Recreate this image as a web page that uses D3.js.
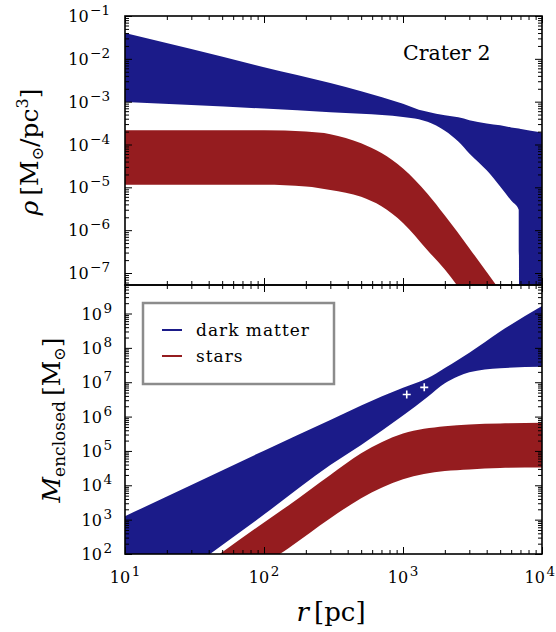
<!DOCTYPE html>
<html>
<head>
<meta charset="utf-8">
<script src="https://cdn.jsdelivr.net/npm/d3@7"></script>
<style>
body { margin: 0; background: #fff; }
text { font-family: "DejaVu Serif", serif; fill: #000; }
</style>
</head>
<body>
<svg id="chart" width="556" height="632"></svg>
<script>

// density panel, dark matter band (Msun/pc^3)
var dmRhoR  = [10, 30, 100, 300, 500, 1000, 1300, 1500, 2000, 2500, 3000, 4000, 5000, 6000, 6800, 6900, 10000]
var dmRhoHi = [0.040, 0.017, 0.0064, 0.00272, 0.00176, 8.9e-4, 6.5e-4, 5.8e-4, 4.8e-4, 4.3e-4, 3.7e-4, 3.1e-4, 2.8e-4, 2.5e-4, 2.35e-4, 2.33e-4, 1.9e-4]
var dmRhoLo = [9.8e-4, 8.4e-4, 6.9e-4, 5.7e-4, 5.2e-4, 4.4e-4, 3.9e-4, 3.4e-4, 2.1e-4, 1.18e-4, 6.2e-5, 2.5e-5, 1.05e-5, 4.9e-6, 3.0e-6, 1e-12, 1e-12]

// density panel, stars band
var starRhoR  = [10, 100, 200, 300, 500, 700, 1000, 1500, 2000, 3000, 4000, 5000, 10000]
var starRhoHi = [2.14e-4, 2.14e-4, 2.0e-4, 1.74e-4, 1.07e-4, 6.3e-5, 2.75e-5, 7.1e-6, 2.2e-6, 3.8e-7, 1.05e-7, 3.9e-8, 2e-9]
var starRhoLo = [1.15e-5, 1.15e-5, 1.05e-5, 8.7e-6, 6.0e-6, 3.6e-6, 1.48e-6, 3.4e-7, 1.2e-7, 2.1e-8, 6e-9, 2.5e-9, 1.2e-10]

// enclosed mass panel, dark matter band (Msun)
var dmMassR  = [10, 30, 100, 300, 500, 1000, 1500, 2000, 2500, 3000, 5000, 10000]
var dmMassHi = [1.26e3, 1.02e4, 1.02e5, 7.9e5, 2.1e6, 6.9e6, 1.3e7, 2.6e7, 4.5e7, 7.2e7, 3.0e8, 1.66e9]
var dmMassLo = [1.5, 40, 1.41e3, 3.9e4, 1.5e5, 1.07e6, 3.7e6, 9.3e6, 1.5e7, 1.95e7, 2.57e7, 2.8e7]

// enclosed mass panel, stars band
var starMassR  = [10, 30, 50, 100, 150, 300, 500, 1000, 2000, 3000, 5000, 10000]
var starMassHi = [1.05, 25, 112, 830, 2.6e3, 2.0e4, 8.5e4, 3.2e5, 5.2e5, 5.9e5, 6.3e5, 6.6e5]
var starMassLo = [0.1, 2, 8, 50, 148, 1.1e3, 4.2e3, 1.5e4, 2.6e4, 2.9e4, 3.2e4, 3.3e4]

// white crosses (measured masses)
var obsR = [1064, 1422]
var obsM = [4.4e6, 7.1e6]

var xTickExp = [1, 2, 3, 4]
var rhoTickExp = [-1, -2, -3, -4, -5, -6, -7]
var massTickExp = [2, 3, 4, 5, 6, 7, 8, 9]

var legendNames = ["dark matter", "stars"]
var blue = "#1b1b89"
var red = "#951c1f"

var width = 556
var height = 632

var svg = d3.select('#chart')
            .attr('width', width)
            .attr('height', height);

var left = 125, right = 542, top1 = 16, mid = 285, bottom = 554

var x = d3.scaleLog().domain([10, 1e4]).range([left, right]);
var yRho = d3.scaleLog().domain([Math.pow(10, -7.28), 0.1]).range([mid, top1]);
var yMass = d3.scaleLog().domain([100, Math.pow(10, 9.83)]).range([bottom, mid]);

var defs = svg.append('defs');
defs.append('clipPath').attr('id', 'clipTop')
    .append('rect').attr('x', left).attr('y', top1).attr('width', right - left).attr('height', mid - top1);
defs.append('clipPath').attr('id', 'clipBot')
    .append('rect').attr('x', left).attr('y', mid).attr('width', right - left).attr('height', bottom - mid);

//builds a filled band between lo and hi arrays
var band = function(g, yScale, rs, lo, hi, color){
  var rows = rs.map(function(r, i){ return {r: r, lo: lo[i], hi: hi[i]} })
  var area = d3.area()
               .x(function(d){ return x(d.r) })
               .y0(function(d){ return yScale(d.lo) })
               .y1(function(d){ return yScale(d.hi) })
               .curve(d3.curveMonotoneX)
  g.append('path').datum(rows).attr('d', area).attr('fill', color)
}

var topG = svg.append('g').attr('clip-path', 'url(#clipTop)');
band(topG, yRho, dmRhoR, dmRhoLo, dmRhoHi, blue)
band(topG, yRho, starRhoR, starRhoLo, starRhoHi, red)

var botG = svg.append('g').attr('clip-path', 'url(#clipBot)');
band(botG, yMass, dmMassR, dmMassLo, dmMassHi, blue)
band(botG, yMass, starMassR, starMassLo, starMassHi, red)

botG.selectAll('path.obs')
    .data(obsR)
    .enter()
    .append('path')
    .attr('class', 'obs')
    .attr('transform', function(d, i){ return 'translate(' + x(d) + ',' + yMass(obsM[i]) + ')' })
    .attr('d', 'M-4,0H4M0,-4V4')
    .attr('stroke', '#fff')
    .attr('stroke-width', 1.6)
    .attr('fill', 'none');

// tick values
var majorX = xTickExp.map(function(e){ return Math.pow(10, e) })
var minorX = []
for (var e = 1; e < 4; e++) for (var k = 2; k < 10; k++) minorX.push(k * Math.pow(10, e))

var logMinors = function(scale){
  var dom = scale.domain(), out = []
  for (var e = Math.floor(Math.log10(dom[0])); e <= Math.ceil(Math.log10(dom[1])); e++)
    for (var k = 2; k < 10; k++){
      var v = k * Math.pow(10, e)
      if (v >= dom[0] && v <= dom[1]) out.push(v)
    }
  return out
}

var drawTicks = function(axis, y0, x0, vals, len){
  var g = svg.append('g').attr('transform', 'translate(' + x0 + ',' + y0 + ')')
  g.call(axis.tickValues(vals).tickSize(-len).tickFormat(''))
  g.select('.domain').remove()
  g.selectAll('line').attr('stroke', '#000').attr('stroke-width', 1)
}

;[[top1, mid], [mid, bottom]].forEach(function(p){
  drawTicks(d3.axisTop(x), p[0], 0, majorX, 7)
  drawTicks(d3.axisTop(x), p[0], 0, minorX, 4)
  drawTicks(d3.axisBottom(x), p[1], 0, majorX, 7)
  drawTicks(d3.axisBottom(x), p[1], 0, minorX, 4)
})

var majorRho = rhoTickExp.map(function(e){ return Math.pow(10, e) })
var majorMass = massTickExp.map(function(e){ return Math.pow(10, e) })
drawTicks(d3.axisLeft(yRho), 0, left, majorRho, 7)
drawTicks(d3.axisLeft(yRho), 0, left, logMinors(yRho), 4)
drawTicks(d3.axisRight(yRho), 0, right, majorRho, 7)
drawTicks(d3.axisRight(yRho), 0, right, logMinors(yRho), 4)
drawTicks(d3.axisLeft(yMass), 0, left, majorMass, 7)
drawTicks(d3.axisLeft(yMass), 0, left, logMinors(yMass), 4)
drawTicks(d3.axisRight(yMass), 0, right, majorMass, 7)
drawTicks(d3.axisRight(yMass), 0, right, logMinors(yMass), 4)

// frames
svg.append('rect').attr('x', left).attr('y', top1).attr('width', right - left).attr('height', mid - top1)
   .attr('fill', 'none').attr('stroke', '#000').attr('stroke-width', 1.6)
svg.append('rect').attr('x', left).attr('y', mid).attr('width', right - left).attr('height', bottom - mid)
   .attr('fill', 'none').attr('stroke', '#000').attr('stroke-width', 1.6)

// power-of-ten labels
var powLabel = function(xp, yp, expo, anchor){
  var t = svg.append('text').attr('x', xp).attr('y', yp).attr('text-anchor', anchor).style('font-size', '16px')
  t.append('tspan').text('10')
  t.append('tspan').attr('dx', 1.5).attr('dy', -7).style('font-size', '13.5px').text(String(expo).replace('-', '\u2212'))
  return t
}

rhoTickExp.forEach(function(e){ powLabel(110, yRho(Math.pow(10, e)) + 6, e, 'end') })
massTickExp.forEach(function(e){ powLabel(112, yMass(Math.pow(10, e)) + 6, e, 'end') })
xTickExp.forEach(function(e){
  var t = powLabel(x(Math.pow(10, e)), 583, e, 'middle')
  var b = t.node().getBBox()
  if (b.x + b.width > 555) t.attr('x', x(Math.pow(10, e)) - (b.x + b.width - 555))
})

// axis titles
var xt = svg.append('text').attr('x', 331).attr('y', 621).attr('text-anchor', 'middle').style('font-size', '26px')
xt.append('tspan').style('font-style', 'italic').text('r')
xt.append('tspan').text('\u2009[pc]')

var yt1 = svg.append('text').attr('transform', 'translate(38,152) rotate(-90)').attr('text-anchor', 'middle').style('font-size', '25px')
yt1.append('tspan').style('font-style', 'italic').text('\u03c1')
yt1.append('tspan').text('\u2009[M')
yt1.append('tspan').attr('dy', 5).style('font-size', '16px').text('\u2299')
yt1.append('tspan').attr('dy', -5).text('/pc')
yt1.append('tspan').attr('dy', -10).style('font-size', '16px').text('3')
yt1.append('tspan').attr('dy', 10).text(']')

var yt2 = svg.append('text').attr('transform', 'translate(60,420) rotate(-90)').attr('text-anchor', 'middle').style('font-size', '25px')
yt2.append('tspan').style('font-style', 'italic').text('M')
yt2.append('tspan').attr('dy', 5).style('font-size', '17px').text('enclosed')
yt2.append('tspan').attr('dy', -5).text('\u2009[M')
yt2.append('tspan').attr('dy', 5).style('font-size', '16px').text('\u2299')
yt2.append('tspan').attr('dy', -5).text(']')

// panel name
svg.append('text').attr('x', 403).attr('y', 60).style('font-size', '20.5px').text('Crater 2')

// legend
var leg = svg.append('g')
leg.append('rect').attr('x', 143).attr('y', 303).attr('width', 191).attr('height', 81)
   .attr('fill', '#fff').attr('stroke', '#8c8c8c').attr('stroke-width', 2.5)
legendNames.forEach(function(name, i){
  var yy = 330 + i * 26
  leg.append('line').attr('x1', 162).attr('x2', 182).attr('y1', yy).attr('y2', yy)
     .attr('stroke', i == 0 ? blue : red).attr('stroke-width', 2)
  leg.append('text').attr('x', 196).attr('y', yy + 6).style('font-size', '17px')
     .style('letter-spacing', '1px').text(name)
})

</script>
</body>
</html>
